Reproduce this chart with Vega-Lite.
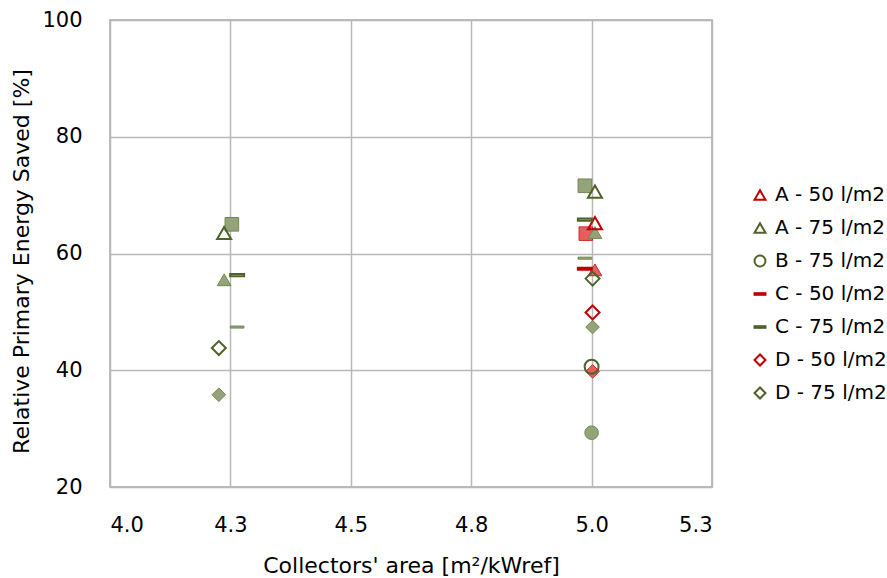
{
  "$schema": "https://vega.github.io/schema/vega-lite/v6.json",
  "width": 602,
  "height": 467,
  "autosize": {"type": "none"},
  "padding": {"left": 110, "top": 20, "right": 175, "bottom": 91},
  "background": "white",
  "config": {
    "font": "DejaVu Sans",
    "view": {"stroke": "#A6A6A6", "strokeWidth": 1.5},
    "axis": {
      "domain": false,
      "ticks": false,
      "gridColor": "#B8B8B8",
      "gridWidth": 1.5,
      "labelFontSize": 21,
      "labelColor": "#000000",
      "titleFontSize": 22,
      "titleFontWeight": "normal",
      "titleColor": "#000000"
    },
    "legend": {
      "labelFontSize": 20,
      "labelColor": "#000000",
      "symbolStrokeWidth": 2,
      "symbolSize": 120,
      "symbolOpacity": 1,
      "rowPadding": 13,
      "labelOffset": 5
    }
  },
  "data": {
    "values": [
      {"area": 4.237, "saved": 63.5, "system": "A", "volume": "75 l/m2", "series": "A - 75 l/m2", "marker": "hollow"},
      {"area": 5.007, "saved": 70.6, "system": "A", "volume": "75 l/m2", "series": "A - 75 l/m2", "marker": "hollow"},
      {"area": 5.007, "saved": 65.2, "system": "A", "volume": "50 l/m2", "series": "A - 50 l/m2", "marker": "hollow"},
      {"area": 5.0, "saved": 40.6, "system": "B", "volume": "75 l/m2", "series": "B - 75 l/m2", "marker": "hollow"},
      {"area": 4.986, "saved": 57.4, "system": "C", "volume": "50 l/m2", "series": "C - 50 l/m2", "marker": "hollow"},
      {"area": 4.264, "saved": 56.3, "system": "C", "volume": "75 l/m2", "series": "C - 75 l/m2", "marker": "hollow"},
      {"area": 4.986, "saved": 65.8, "system": "C", "volume": "75 l/m2", "series": "C - 75 l/m2", "marker": "hollow"},
      {"area": 5.002, "saved": 49.9, "system": "D", "volume": "50 l/m2", "series": "D - 50 l/m2", "marker": "hollow"},
      {"area": 4.226, "saved": 43.8, "system": "D", "volume": "75 l/m2", "series": "D - 75 l/m2", "marker": "hollow"},
      {"area": 5.002, "saved": 55.7, "system": "D", "volume": "75 l/m2", "series": "D - 75 l/m2", "marker": "hollow"},
      {"area": 4.253, "saved": 65.0, "system": "E", "volume": "75 l/m2", "series": "E - 75 l/m2", "marker": "filled"},
      {"area": 4.986, "saved": 71.6, "system": "E", "volume": "75 l/m2", "series": "E - 75 l/m2", "marker": "filled"},
      {"area": 4.988, "saved": 63.4, "system": "E", "volume": "50 l/m2", "series": "E - 50 l/m2", "marker": "filled"},
      {"area": 4.237, "saved": 55.5, "system": "A", "volume": "75 l/m2", "series": "A - 75 l/m2", "marker": "filled"},
      {"area": 5.007, "saved": 63.6, "system": "A", "volume": "75 l/m2", "series": "A - 75 l/m2", "marker": "filled"},
      {"area": 5.007, "saved": 57.2, "system": "A", "volume": "50 l/m2", "series": "A - 50 l/m2", "marker": "filled"},
      {"area": 4.264, "saved": 47.4, "system": "C", "volume": "75 l/m2", "series": "C - 75 l/m2", "marker": "filled"},
      {"area": 4.986, "saved": 59.2, "system": "C", "volume": "75 l/m2", "series": "C - 75 l/m2", "marker": "filled"},
      {"area": 4.226, "saved": 35.8, "system": "D", "volume": "75 l/m2", "series": "D - 75 l/m2", "marker": "filled"},
      {"area": 5.002, "saved": 47.4, "system": "D", "volume": "75 l/m2", "series": "D - 75 l/m2", "marker": "filled"},
      {"area": 5.002, "saved": 39.8, "system": "D", "volume": "50 l/m2", "series": "D - 50 l/m2", "marker": "filled"},
      {"area": 5.0, "saved": 29.3, "system": "B", "volume": "75 l/m2", "series": "B - 75 l/m2", "marker": "filled"}
    ]
  },
  "encoding": {
    "x": {
      "field": "area",
      "type": "quantitative",
      "title": "Collectors' area [m²/kWref]",
      "scale": {"domain": [4, 5.25], "nice": false, "zero": false},
      "axis": {"values": [4, 4.25, 4.5, 4.75, 5, 5.25], "format": ".1f", "labelPadding": 27, "titlePadding": 20}
    },
    "y": {
      "field": "saved",
      "type": "quantitative",
      "title": "Relative Primary Energy Saved [%]",
      "scale": {"domain": [20, 100], "nice": false, "zero": false},
      "axis": {"values": [20, 40, 60, 80, 100], "labelPadding": 28, "titlePadding": 8, "titleY": 241}
    }
  },
  "layer": [
    {
      "transform": [{"filter": "datum.marker === 'filled'"}],
      "mark": {"type": "point", "filled": true, "opacity": 1, "fillOpacity": 1, "strokeWidth": 1, "size": 185},
      "encoding": {
        "fill": {
          "field": "volume",
          "type": "nominal",
          "scale": {"domain": ["50 l/m2", "75 l/m2"], "range": ["#E4605F", "#95A37B"]},
          "legend": null
        },
        "stroke": {
          "field": "volume",
          "type": "nominal",
          "scale": {"domain": ["50 l/m2", "75 l/m2"], "range": ["#D42A2A", "#728850"]},
          "legend": null
        },
        "shape": {
          "field": "system",
          "type": "nominal",
          "scale": {
            "domain": ["A", "B", "C", "D", "E"],
            "range": ["triangle-up", "circle", "M-1,-0.15H1V0.15H-1Z", "diamond", "square"]
          },
          "legend": null
        }
      }
    },
    {
      "transform": [{"filter": "datum.marker === 'hollow'"}],
      "mark": {"type": "point", "filled": false, "opacity": 1, "strokeWidth": 2, "size": 195},
      "encoding": {
        "color": {
          "field": "series",
          "type": "nominal",
          "scale": {
            "domain": ["A - 50 l/m2", "A - 75 l/m2", "B - 75 l/m2", "C - 50 l/m2", "C - 75 l/m2", "D - 50 l/m2", "D - 75 l/m2"],
            "range": ["#C00000", "#4F6228", "#4F6228", "#C00000", "#4F6228", "#C00000", "#4F6228"]
          },
          "legend": {"title": null, "orient": "none", "legendX": 640, "legendY": 165}
        },
        "shape": {
          "field": "series",
          "type": "nominal",
          "scale": {
            "domain": ["A - 50 l/m2", "A - 75 l/m2", "B - 75 l/m2", "C - 50 l/m2", "C - 75 l/m2", "D - 50 l/m2", "D - 75 l/m2"],
            "range": ["triangle-up", "triangle-up", "circle", "M-1,-0.15H1V0.15H-1Z", "M-1,-0.15H1V0.15H-1Z", "diamond", "diamond"]
          },
          "legend": {"title": null, "orient": "none", "legendX": 640, "legendY": 165}
        }
      }
    }
  ],
  "resolve": {
    "scale": {"shape": "independent", "color": "independent"}
  }
}
